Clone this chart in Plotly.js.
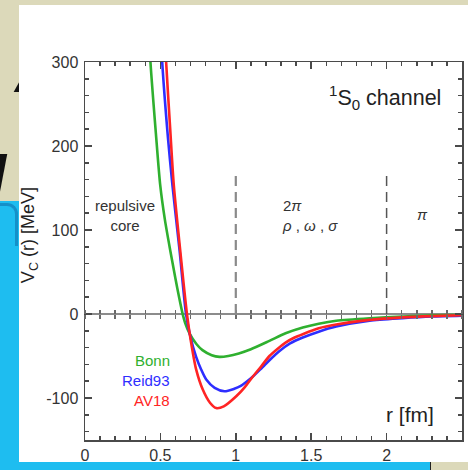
<!DOCTYPE html>
<html>
<head>
<meta charset="utf-8">
<script src="https://cdn.plot.ly/plotly-3.0.1.min.js"></script>
<style>
  html, body { margin:0; padding:0; }
  body { width:468px; height:470px; background:#dcd9ba; position:relative; overflow:hidden; font-family:"Liberation Sans", Arial, sans-serif; }
  .abs { position:absolute; }
  #clip { position:absolute; left:0; top:0; width:19px; height:470px; overflow:hidden; }
  #chart { position:absolute; left:19px; top:5px; width:449px; height:457px; background:#ffffff; }
</style>
</head>
<body>
<div id="clip">
  <div class="abs" style="left:15px; top:31px; font:italic bold 66px 'Liberation Sans', Arial, sans-serif; color:#111;">A</div>
  <div class="abs" style="left:-14px; top:141px; font:italic bold 72px 'Liberation Sans', Arial, sans-serif; color:#111;">l</div>
  <div class="abs" style="left:0; top:201px; width:19px; height:270px; background:#1ebdf0;"></div>
  <div class="abs" style="left:-22px; top:203px; width:37px; height:40px; border-top:3px solid #1590c8; border-right:3px solid #1590c8; border-top-right-radius:11px;"></div>
</div>
<div class="abs" style="left:0; top:462px; width:430px; height:8px; background:#1ebdf0;"></div>
<div class="abs" style="left:430px; top:462px; width:1px; height:8px; background:#222;"></div>
<div id="chart"></div>
<script>
// ---- data (r in fm, V_C in MeV) ----
const bonnR   = [0.40, 0.434, 0.47, 0.499, 0.53, 0.565, 0.60, 0.625, 0.645, 0.665, 0.693, 0.74, 0.779, 0.84, 0.892, 0.95, 1.02, 1.10, 1.223, 1.33, 1.444, 1.55, 1.666, 1.887, 2.105, 2.3, 2.5];
const bonnV   = [420, 300, 215, 153, 112, 76, 42, 19, 2, -11, -23, -36, -43, -49, -51, -50, -47, -42, -32, -23, -16, -11.5, -8, -5, -3, -1.5, -1];
const reidR   = [0.48, 0.512, 0.55, 0.580, 0.627, 0.670, 0.70, 0.737, 0.77, 0.804, 0.86, 0.925, 0.99, 1.03, 1.069, 1.11, 1.15, 1.19, 1.223, 1.29, 1.36, 1.444, 1.55, 1.666, 1.887, 2.105, 2.3, 2.5];
const reidV   = [420, 300, 210, 153, 76, 0, -28, -51, -66, -78, -88, -92, -89, -86, -81, -75, -68, -61, -55, -44, -35, -28, -21, -15, -8, -5, -3, -2];
const av18R   = [0.50, 0.538, 0.565, 0.589, 0.63, 0.676, 0.70, 0.737, 0.781, 0.83, 0.870, 0.92, 1.003, 1.06, 1.111, 1.17, 1.223, 1.28, 1.33, 1.39, 1.444, 1.55, 1.666, 1.887, 2.105, 2.3, 2.5];
const av18V   = [440, 300, 220, 153, 78, 0, -30, -66, -90, -106, -112, -110, -98, -87, -75, -62, -50, -41, -34, -28, -24, -17, -12.5, -7, -4, -2.5, -1.5];
const seriesNames  = ["Bonn", "Reid93", "AV18"];
const seriesColors = ["#2fb02f", "#2e2eff", "#ff2424"];
const xRange = [0, 2.5];
const yRange = [-150, 300];
const xTickStep = 0.5;
const yTickVals   = [-100, 0, 100, 200, 300];
const yTickLabels = ["-100", "0", "100", "200", "300"];
const regionBounds = [1, 2];      // dashed separators (fm)
const regionTop = 170;            // MeV
// text labels
const legendLabelR = 0.575;
const legendLabelV = [-55, -79, -103];
const regionLabels = [
  {text: "repulsive<br>core", r: 0.262, v: 117, anchor: "center"},
  {text: "2<i>π</i><br><i>ρ</i> , <i>ω</i> , <i>σ</i>", r: 1.29, v: 117, anchor: "left"},
  {text: "<i>π</i>", r: 2.238, v: 118, anchor: "center"}
];

const font = "Liberation Sans, Arial, sans-serif";
const axisCol = "#4a4a4a";
const zeroCol = "#8c8c8c";
const seriesR = [bonnR, reidR, av18R], seriesV = [bonnV, reidV, av18V];

const traces = seriesNames.map((n, i) => ({
  x: seriesR[i], y: seriesV[i], name: n, type: "scatter", mode: "lines",
  line: {color: seriesColors[i], width: 2.6, shape: "spline", smoothing: 0.7},
  hoverinfo: "skip"
}));
// invisible carriers so the tick rows along V = 0 get drawn
["x2", "x3"].forEach(ax => traces.push({
  x: [xRange[0]], y: [null], xaxis: ax, yaxis: "y", type: "scatter", mode: "lines",
  showlegend: false, hoverinfo: "skip"
}));

const baseAxis = {
  showline: true, linecolor: axisCol, linewidth: 1.5, mirror: "ticks",
  ticks: "inside", ticklen: 7, tickwidth: 1.5, tickcolor: axisCol,
  showgrid: false, zeroline: false,
  tickfont: {family: font, size: 16, color: "#333"},
};

const zeroTickAxis = (side) => ({
  overlaying: "x", anchor: "free", position: (0 - yRange[0]) / (yRange[1] - yRange[0]),
  side: side, range: xRange, dtick: xTickStep, tick0: 0,
  ticks: "outside", ticklen: 4, tickwidth: 1.5, tickcolor: "#6a6a6a",
  minor: {dtick: 0.1, ticks: "outside", ticklen: 4, tickwidth: 1.5, tickcolor: "#6a6a6a"},
  showticklabels: false, showline: false, showgrid: false, zeroline: false
});

const annotations = [];
seriesNames.forEach((n, i) => annotations.push({
  x: legendLabelR, y: legendLabelV[i], xref: "x", yref: "y", text: n, showarrow: false,
  xanchor: "right", yanchor: "middle", font: {family: font, size: 15, color: seriesColors[i]}
}));
regionLabels.forEach(l => annotations.push({
  x: l.r, y: l.v, xref: "x", yref: "y", text: l.text, showarrow: false,
  xanchor: l.anchor, yanchor: "middle", align: l.anchor === "left" ? "left" : "center",
  font: {family: font, size: 15, color: "#333"}
}));
annotations.push({
  x: 2.375, y: 258, xref: "x", yref: "y", text: "<sup>1</sup>S<sub>0</sub> channel", showarrow: false,
  xanchor: "right", yanchor: "middle", font: {family: font, size: 21.5, color: "#222"}
});
annotations.push({
  x: 2.152, y: -120, xref: "x", yref: "y", text: "r [fm]", showarrow: false,
  xanchor: "center", yanchor: "middle", font: {family: font, size: 21, color: "#222"}
});
annotations.push({
  x: -0.1485, y: 0.542, xref: "paper", yref: "paper", text: "V<sub>C</sub> (r) [MeV]", showarrow: false,
  textangle: -90, xanchor: "center", yanchor: "middle", font: {family: font, size: 18, color: "#222"}
});

const shapes = regionBounds.map((b, i) => ({
  type: "line", xref: "x", yref: "y", x0: b, x1: b, y0: 0, y1: regionTop,
  line: {color: i === 0 ? "#8a8a8a" : "#555", width: i === 0 ? 2.2 : 1.5, dash: "10px,6px"}
}));

const layout = {
  width: 449, height: 457,
  margin: {l: 66, r: 6, t: 57, b: 22, pad: 0},
  paper_bgcolor: "#ffffff", plot_bgcolor: "#ffffff",
  showlegend: false,
  xaxis: Object.assign({}, baseAxis, {range: xRange, dtick: xTickStep, tick0: 0,
    minor: {dtick: 0.1, ticks: "inside", ticklen: 4, tickwidth: 1.5, tickcolor: axisCol}}),
  yaxis: Object.assign({}, baseAxis, {range: yRange, tickmode: "array",
    tickvals: yTickVals, ticktext: yTickLabels, ticklabelstandoff: 2,
    zeroline: true, zerolinecolor: zeroCol, zerolinewidth: 2.2,
    minor: {dtick: 20, ticks: "inside", ticklen: 4, tickwidth: 1.5, tickcolor: axisCol}}),
  xaxis2: zeroTickAxis("bottom"),
  xaxis3: zeroTickAxis("top"),
  annotations: annotations,
  shapes: shapes
};

Plotly.newPlot("chart", traces, layout, {staticPlot: true, displayModeBar: false});
</script>
</body>
</html>
